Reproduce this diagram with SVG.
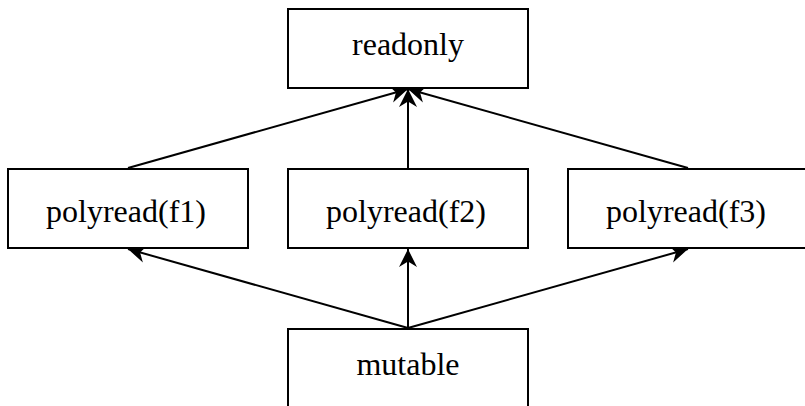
<svg xmlns="http://www.w3.org/2000/svg" width="805" height="406" viewBox="0 0 805 406">
<style>
.box{fill:#fff;stroke:#000;stroke-width:2}
.lbl{font-family:"Liberation Serif","DejaVu Serif",serif;font-size:32px;fill:#000;text-anchor:middle}
.edge{stroke:#000;stroke-width:2;fill:none;marker-end:url(#ah)}
</style>
<defs>
<marker id="ah" markerUnits="userSpaceOnUse" viewBox="-20 -11 22 22" refX="0" refY="0" markerWidth="22" markerHeight="22" orient="auto">
<path d="M0,0 L-18,-9 L-12.5,0 L-18,9 Z" fill="#000"/>
</marker>
</defs>
<rect width="805" height="406" fill="#fff"/>
<g id="connectors">
<line class="edge" x1="128" y1="168" x2="408" y2="89"/>
<line class="edge" x1="408" y1="168" x2="408" y2="89"/>
<line class="edge" x1="688" y1="168" x2="408" y2="89"/>
<line class="edge" x1="408" y1="328" x2="128" y2="249"/>
<line class="edge" x1="408" y1="328" x2="408" y2="249"/>
<line class="edge" x1="408" y1="328" x2="688" y2="249"/>
</g>
<g id="readonly"><rect class="box" x="288" y="9" width="240" height="79"/><text class="lbl" x="408" y="55">readonly</text></g>
<g id="polyread_f1"><rect class="box" x="8" y="169" width="240" height="79"/><text class="lbl" x="126" y="222">polyread(f1)</text></g>
<g id="polyread_f2"><rect class="box" x="288" y="169" width="240" height="79"/><text class="lbl" x="406" y="222">polyread(f2)</text></g>
<g id="polyread_f3"><rect class="box" x="568" y="169" width="240" height="79"/><text class="lbl" x="686" y="222">polyread(f3)</text></g>
<g id="mutable"><rect class="box" x="288" y="329" width="240" height="79"/><text class="lbl" x="408" y="375">mutable</text></g>
</svg>
